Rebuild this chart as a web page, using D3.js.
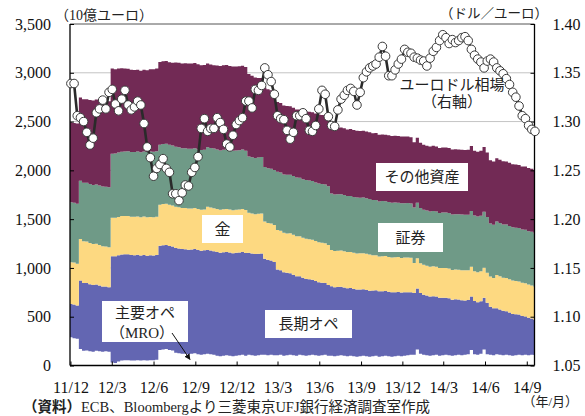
<!DOCTYPE html>
<html><head><meta charset="utf-8">
<script src="https://cdn.jsdelivr.net/npm/d3@7"></script>
<style>body{margin:0;background:#fff}</style>
</head><body><svg id="c" width="585" height="416"></svg>
<script>
// ---- data (weekly ECB balance sheet, EUR bn; EUR/USD) ----
const startDate = new Date(2011, 11, 2);
const nWeeks = 147;
const dates = d3.range(nWeeks).map(i => d3.timeDay.offset(startDate, 7 * i));

const mro = [290,280,275,
 170,150,155,145,140,150,145,140,145,140,
 30,25,40,50,55,55,50,50,55,50,55,50,55,55,60,
 160,165,170,160,155,
 130,125,120,120,115,120,125,115,110,115,120,115,110,
 100,95,100,105,100,95,100,105,110,100,
 110,105,100,105,110,
 110,105,110,105,
 105,110,100,105,110,105,100,110,105,100,105,110,105,100,105,110,100,
 100,95,100,105,100,95,100,95,90,95,100,95,90,95,100,90,95,100,95,90,95,100,95,100,105,110,
 110,165,120,110,105,100,105,110,100,105,110,105,100,105,110,105,110,115,160,115,110,120,165,115,
 110,105,115,110,105,110,105,100,105,110,105,110,105,110,108];

const ltro = [340,345,340,
 700,695,690,688,685,680,675,670,665,662,
 1090,1095,1090,1088,1085,1085,1082,1080,1080,1078,1078,1075,1075,1073,1072,
 1068,1068,1066,1066,1065,
 1075,1075,1073,1072,1072,1070,1068,1068,1066,1065,1064,1063,1062,
 1062,1060,1060,1058,1058,1056,1055,1054,1053,1052,
 1045,1043,1042,1040,1038,
 985,975,965,955,
 880,866,855,845,835,825,815,805,795,787,778,770,760,752,743,735,725,
 712,708,705,702,700,697,694,690,688,685,682,680,677,674,672,670,667,664,662,660,657,654,652,650,647,640,
 632,625,622,616,613,606,604,598,595,590,584,583,575,574,566,565,557,556,548,547,539,538,530,527,
 492,482,473,465,455,447,438,429,420,412,402,393,384,372,360];

const gold = [429,430,428,
 426,428,425,422,420,418,415,412,410,410,
 395,394,393,393,392,392,393,394,393,392,393,394,393,392,392,
 420,421,421,422,420,
 421,422,420,421,422,420,421,420,421,420,442,441,440,
 441,440,442,441,440,441,440,439,440,441,
 410,409,408,409,410,
 380,380,381,380,
 405,406,405,404,410,411,410,409,410,411,410,409,410,411,410,409,410,
 372,371,370,372,371,370,369,370,371,370,369,370,371,360,358,357,358,357,356,357,358,357,356,357,356,355,
 308,309,307,306,305,306,307,305,304,305,306,307,305,304,306,307,308,306,305,304,306,307,308,309,
 309,310,340,341,340,339,340,341,340,339,340,341,340,339,338];

const securities = [614,612,615,
 598,600,602,604,606,608,610,612,613,614,
 656,658,660,660,662,664,664,665,666,666,668,668,670,670,672,
 614,615,616,615,614,
 615,614,613,614,613,612,613,612,611,612,611,610,611,
 610,609,610,611,610,609,608,609,610,609,
 577,578,576,577,578,
 560,562,561,563,
 595,597,598,600,601,600,602,601,600,602,603,601,600,602,601,600,602,
 580,578,579,576,577,574,575,572,573,570,571,568,569,566,567,564,565,562,563,560,561,558,559,556,557,555,
 570,568,566,565,566,567,568,566,565,567,568,569,567,566,568,570,571,569,570,572,573,571,572,570,
 545,546,547,545,546,548,547,546,548,547,546,548,547,549,548];

const otherAssets = [820,818,822,
 852,855,858,862,866,870,874,878,880,882,
 872,865,860,855,850,845,842,840,838,836,838,840,842,845,848,
 849,850,848,846,850,
 865,868,870,872,872,874,873,872,870,868,857,856,855,
 862,865,866,864,862,863,861,860,859,858,
 845,835,825,815,810,
 815,810,805,797,
 715,712,708,705,702,700,698,700,702,704,705,706,707,708,709,710,710,
 683,684,682,685,684,683,685,686,684,683,685,684,683,686,685,684,683,682,684,685,683,682,684,683,681,680,
 668,666,667,665,664,666,667,665,664,666,665,664,666,667,665,664,663,665,666,664,663,665,664,662,
 648,647,649,648,647,648,649,647,648,646,647,648,647,646,648];

const eurusd = [1.339,1.339,1.306,1.304,1.300,1.289,1.276,1.283,1.309,1.313,
 1.322,1.313,1.330,1.333,1.318,1.311,1.323,1.332,1.317,1.312,
 1.315,1.321,1.317,1.298,1.274,1.263,1.244,1.252,1.256,1.262,
 1.252,1.248,1.226,1.226,1.219,1.227,1.235,1.234,1.248,1.253,
 1.264,1.293,1.303,1.290,1.293,
 1.293,1.304,1.299,1.292,1.277,1.274,1.286,1.297,1.301,1.304,
 1.321,1.321,1.314,1.333,1.332,1.337,1.355,1.348,1.341,1.328,
 1.306,1.303,1.302,1.291,1.282,1.289,1.306,
 1.306,1.309,1.303,1.291,1.290,1.296,1.313,1.332,1.328,1.305,
 1.296,1.295,1.312,1.323,1.327,1.332,1.334,1.331,1.317,1.330,
 1.345,1.351,1.355,1.357,1.359,1.366,1.377,1.367,1.347,1.347,
 1.353,1.359,1.364,1.374,1.371,1.370,1.366,1.365,1.363,1.362,
 1.357,1.365,1.372,1.376,1.383,1.389,1.386,1.380,1.384,1.381,
 1.383,1.386,1.387,1.383,1.374,1.368,1.364,1.361,1.355,1.362,
 1.364,1.361,1.355,1.352,1.349,1.344,1.338,1.330,1.325,1.316,
 1.306,1.303,1.296,1.292,1.290];

const seriesKeys = ["mro", "ltro", "gold", "securities", "other"];
const seriesColors = ["#ffffff", "#6366b2", "#fdd981", "#6f9a87", "#722a55"];
const leftTicks = [0, 500, 1000, 1500, 2000, 2500, 3000, 3500];
const rightTicks = [1.05, 1.10, 1.15, 1.20, 1.25, 1.30, 1.35, 1.40];
const xTickMonths = [[2011,12],[2012,3],[2012,6],[2012,9],[2012,12],[2013,3],[2013,6],[2013,9],[2013,12],[2014,3],[2014,6],[2014,9]];
const xTickLabels = ["11/12","12/3","12/6","12/9","12/12","13/3","13/6","13/9","13/12","14/3","14/6","14/9"];

// ---- layout ----
const L = 70, R = 534.5, T = 24, B = 365.5;
const serif = "'Liberation Serif','Noto Sans CJK JP',serif";
const cjk = "'Liberation Serif','Noto Sans CJK JP',sans-serif";

const svg = d3.select("#c");
const x = d3.scaleTime().domain([new Date(2011, 10, 30), new Date(2014, 8, 18)]).range([L, R]);
const y = d3.scaleLinear().domain([0, 3500]).range([B, T]);
const yR = d3.scaleLinear().domain([1.05, 1.40]).range([B, T]);

const table = dates.map((d, i) => ({date: d, mro: mro[i], ltro: ltro[i], gold: gold[i], securities: securities[i], other: otherAssets[i]}));
const stacked = d3.stack().keys(seriesKeys)(table);

svg.append("defs").append("clipPath").attr("id", "pc")
  .append("rect").attr("x", L).attr("y", T).attr("width", R - L).attr("height", B - T);

// gridlines
svg.append("g").selectAll("line").data(leftTicks.filter(v => v > 0 && v < 3500)).join("line")
  .attr("x1", L).attr("x2", R).attr("y1", d => y(d)).attr("y2", d => y(d))
  .attr("stroke", "#c4c4c4").attr("stroke-width", 1);

// stacked weekly columns, drawn as stepped areas (each week one flat step)
const plot = svg.append("g").attr("clip-path", "url(#pc)");
const stepArea = d3.area().curve(d3.curveStepAfter)
  .x(p => p.px).y0(p => y(p.lo)).y1(p => y(p.hi));
stacked.forEach((layer, k) => {
  const pts = layer.map(d => ({px: x(d3.timeHour.offset(d.data.date, -84)), lo: d[0], hi: d[1]}));
  const last = layer[layer.length - 1];
  pts.push({px: x(d3.timeHour.offset(last.data.date, 84)), lo: last[0], hi: last[1]});
  plot.append("path").datum(pts).attr("d", stepArea).attr("fill", seriesColors[k]);
});

// frame
svg.append("line").attr("x1", L).attr("x2", R).attr("y1", T).attr("y2", T).attr("stroke", "#555").attr("stroke-width", 1);
svg.append("line").attr("x1", L).attr("x2", L).attr("y1", T).attr("y2", B).attr("stroke", "#000").attr("stroke-width", 1.3);
svg.append("line").attr("x1", R).attr("x2", R).attr("y1", T).attr("y2", B).attr("stroke", "#000").attr("stroke-width", 1.3);
svg.append("line").attr("x1", L).attr("x2", R).attr("y1", B).attr("y2", B).attr("stroke", "#000").attr("stroke-width", 1.3);

// axes
const yAxisL = d3.axisLeft(y).tickValues(leftTicks).tickSize(-4).tickPadding(19).tickFormat(d3.format(","));
const gL = svg.append("g").attr("transform", `translate(${L},0)`).call(yAxisL);
const yAxisR = d3.axisRight(yR).tickValues(rightTicks).tickSize(-4).tickPadding(18).tickFormat(d3.format(".2f"));
const gR = svg.append("g").attr("transform", `translate(${R},0)`).call(yAxisR);
const xTickDates = xTickMonths.map(([yy, mm]) => new Date(yy, mm - 1, 1));
const xAxis = d3.axisBottom(x).tickValues(xTickDates).tickSize(-4).tickPadding(16).tickFormat((d, i) => xTickLabels[i]);
const gX = svg.append("g").attr("transform", `translate(0,${B})`).call(xAxis);
[gL, gR, gX].forEach(g => {
  g.select(".domain").remove();
  g.selectAll(".tick line").attr("stroke", "#000");
  g.selectAll("text").attr("font-family", serif).attr("font-size", 16).attr("fill", "#111");
});

// EUR/USD line with markers
const fx = dates.map((d, i) => ({date: d, v: eurusd[i]}));
svg.append("path").datum(fx)
  .attr("d", d3.line().x(d => x(d.date)).y(d => yR(d.v)))
  .attr("fill", "none").attr("stroke", "#2a2a2a").attr("stroke-width", 2.6);
svg.append("g").selectAll("circle").data(fx).join("circle")
  .attr("cx", d => x(d.date)).attr("cy", d => yR(d.v)).attr("r", 4.3)
  .attr("fill", "#fff").attr("stroke", "#3a3a3a").attr("stroke-width", 1);

// annotation boxes
function box(bx, by, bw, bh) {
  svg.append("rect").attr("x", bx).attr("y", by).attr("width", bw).attr("height", bh).attr("fill", "#fff");
}
function label(t, tx, ty, size) {
  svg.append("text").attr("x", tx).attr("y", ty).attr("text-anchor", "middle")
    .attr("font-family", cjk).attr("font-size", size || 15).attr("fill", "#222").text(t);
}
box(102, 301, 86, 41);
label("主要オペ", 145, 318);
label("（MRO）", 142, 338);
box(202, 215, 41, 28);
label("金", 222.5, 235, 16);
box(265, 310, 87, 28);
label("長期オペ", 308.5, 329);
box(376, 163, 92, 28);
label("その他資産", 422, 182);
box(378, 223, 65, 29);
label("証券", 410.5, 243);
label("ユーロドル相場", 452, 90);
label("（右軸）", 452, 107);

// arrow for MRO
svg.append("defs").append("marker").attr("id", "ah").attr("viewBox", "0 0 10 10")
  .attr("refX", 9).attr("refY", 5).attr("markerWidth", 6).attr("markerHeight", 6).attr("orient", "auto")
  .append("path").attr("d", "M0,0L10,5L0,10z").attr("fill", "#111");
svg.append("line").attr("x1", 172).attr("y1", 333).attr("x2", 190).attr("y2", 359.5)
  .attr("stroke", "#111").attr("stroke-width", 1).attr("marker-end", "url(#ah)");

// unit labels and notes
svg.append("text").attr("x", 55).attr("y", 20).attr("font-family", cjk).attr("font-size", 14).attr("fill", "#222").text("（10億ユーロ）");
svg.append("text").attr("x", 548).attr("y", 18).attr("text-anchor", "end").attr("font-family", cjk).attr("font-size", 13.5).attr("fill", "#222").text("（ドル／ユーロ）");
svg.append("text").attr("x", 578).attr("y", 406).attr("text-anchor", "end").attr("font-family", cjk).attr("font-size", 13).attr("fill", "#222").text("（年/月）");
const src = svg.append("text").attr("x", 23).attr("y", 412).attr("font-family", cjk).attr("font-size", 14.5).attr("fill", "#222");
src.append("tspan").attr("font-weight", "bold").text("（資料）");
src.append("tspan").text("ECB、Bloombergより三菱東京UFJ銀行経済調査室作成");
</script>
</body></html>
